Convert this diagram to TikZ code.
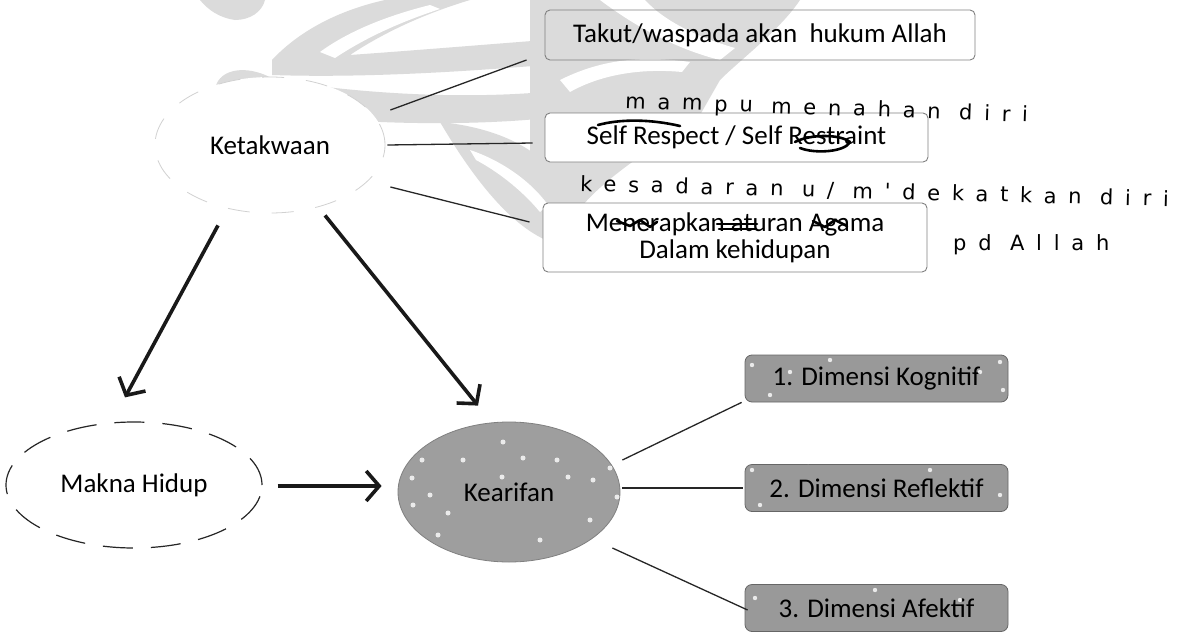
\documentclass[tikz,border=0pt]{standalone}
\usepackage{fontspec}
\setmainfont{Carlito}
\newfontfamily\hand[LetterSpace=56]{DejaVu Sans}
\usetikzlibrary{arrows.meta,shapes.geometric,calc}
\begin{document}
\begin{tikzpicture}[x=1pt,y=-1pt,
  txt/.style={font=\fontsize{27}{31}\selectfont},
  wm/.style={fill=black!14},
  wbox/.style={draw=black!50, line width=0.9pt, rounded corners=5pt, inner sep=0pt, align=center, txt},
  gbox/.style={draw=black!60, line width=0.8pt, rounded corners=7pt, fill=black!40, minimum width=263pt, minimum height=47pt, inner sep=0pt, txt},
  conn/.style={line width=1.3pt, draw=black!85},
  bigarrow/.style={line width=3.6pt, draw=black!90, -{Straight Barb[length=13pt,width=30pt]}},
  hw/.style={font=\hand\fontsize{21}{24}\selectfont, anchor=base west, inner sep=0pt},
  scrib/.style={line width=2.6pt, draw=black, line cap=round, line join=round},
  speck/.style={fill=white, opacity=0.8},
]
\useasboundingbox (0,0) rectangle (1181,632);
\fill[white] (0,0) rectangle (1181,632);

% watermark (light grey logo)
\fill[wm] (200,0) -- (265,0) .. controls (262,12) and (250,20) .. (235,20) .. controls (220,18) and (208,10) .. (200,0) -- cycle;
\fill[wm] (272,60) .. controls (300,30) and (340,10) .. (385,0) -- (470,0) .. controls (420,15) and (380,35) .. (350,55) .. controls (420,50) and (480,45) .. (545,40) -- (545,65) .. controls (460,72) and (360,78) .. (272,75) -- cycle;
\fill[white] (320,52) .. controls (350,30) and (390,15) .. (430,5) -- (440,9) .. controls (400,22) and (365,38) .. (335,58) -- cycle;
\fill[wm] (215,92) .. controls (215,70) and (245,62) .. (275,80) .. controls (350,92) and (450,100) .. (545,92) -- (548,118) .. controls (450,128) and (330,122) .. (270,112) .. controls (230,118) and (215,105) .. (215,92) -- cycle;
\fill[white] (252,93) circle (9);
\fill[wm] (530,0) -- (800,0) .. controls (780,30) and (740,60) .. (720,80) -- (700,115) .. controls (650,150) and (600,180) .. (575,215) -- (530,215) -- cycle;
\fill[white] (600,0) .. controls (640,30) and (680,50) .. (720,60) -- (735,48) .. controls (700,38) and (665,22) .. (645,0) -- cycle;
\fill[white] (560,80) .. controls (600,60) and (640,55) .. (690,62) -- (682,72) .. controls (640,68) and (600,75) .. (570,92) -- cycle;
\fill[wm] (440,122) .. controls (500,128) and (540,150) .. (560,180) -- (560,245) .. controls (520,235) and (480,190) .. (440,122) -- cycle;
\fill[white] (470,150) .. controls (500,160) and (530,180) .. (548,205) -- (540,212) .. controls (520,188) and (495,170) .. (476,160) -- cycle;

% Ketakwaan and its three boxes
\node[ellipse, fill=white, draw=black!18, dash pattern=on 22pt off 22pt, line width=0.8pt,
      minimum width=230pt, minimum height=136pt, inner sep=0pt, txt] (K) at (270,145) {Ketakwaan};
\node[wbox, fill=none, minimum width=430pt, minimum height=50pt] (B1) at (760,35) {Takut/waspada akan\ \ hukum Allah};
\node[wbox, fill=white, minimum width=383pt, minimum height=49pt] (B2) at (736.5,137.5) {Self Respect / Self Restraint};
\node[wbox, fill=white, minimum width=384pt, minimum height=69pt, font=\fontsize{27}{27}\selectfont] (B3) at (735,237.5) {Menerapkan aturan Agama\\Dalam kehidupan};

% pen scribbles over some words
\draw[scrib] (598,125) .. controls (620,119) and (650,119) .. (680,126);
\draw[scrib] (795,142) .. controls (810,134) and (840,134) .. (850,142) .. controls (845,152) and (815,154) .. (800,148);
\draw[scrib] (617,221) -- (630,226) -- (640,220) -- (650,227) -- (657,222);
\draw[scrib] (717,224) -- (757,224) (719,229) -- (755,229);
\draw[scrib] (813,221) -- (825,227) -- (835,220) -- (847,226);

\draw[conn] ([shift={(5,-35)}]K.east) -- ([shift={(-18,25)}]B1.west);
\draw[conn] ([shift={(2,0)}]K.east) -- ([shift={(-12,5.5)}]B2.west);
\draw[conn] ([shift={(5,42)}]K.east) -- ([shift={(-13,-15.5)}]B3.west);

% handwritten notes
\node[hw, rotate=-2] (h1) at (625,108) {mampu menahan diri};
\node[hw, rotate=-1.5] (h2) at (580,191) {kesadaran u/ m'dekatkan diri};
\node[hw] (h3) at (953,250) {pd Allah};

% lower part
\node[ellipse, draw=black!85, dash pattern=on 30pt off 18pt, line width=1.2pt,
      minimum width=256pt, minimum height=126pt, inner sep=0pt, txt] (M) at (134,485) {Makna Hidup};
\node[ellipse, fill=black!38, draw=black!50, line width=0.8pt,
      minimum width=222pt, minimum height=140pt, inner sep=0pt, txt] (F) at (509,492) {Kearifan};
\foreach \p in {(503,442),(523,458),(557,460),(568,477),(593,480),(610,468),(617,497),(422,460),(412,478),(430,495),(413,505),(448,513),(438,535),(502,477),(463,460),(590,520),(540,540)}
  \fill[speck] \p circle (2.5);

\node[gbox] (D1) at (876.5,378.5) {1. Dimensi Kognitif};
\node[gbox] (D2) at (876.5,488) {2. Dimensi Reflektif};
\node[gbox] (D3) at (876.5,608) {3. Dimensi Afektif};
\foreach \p in {(752,365),(770,395),(790,372),(830,360),(1000,362),(1003,390),(980,372),(752,470),(760,505),(808,462),(930,470),(1000,495),(755,598),(875,590),(960,600)}
  \fill[speck] \p circle (2.2);

\draw[bigarrow] ([shift={(-52,12)}]K.south) -- ([shift={(-9,-24)}]M.north);
\draw[bigarrow] ([shift={(55,2)}]K.south) -- ([shift={(-31,-16)}]F.north);
\draw[bigarrow] ([shift={(15,1)}]M.east) -- ([shift={(-16,-6)}]F.west);

\draw[conn] ([shift={(2,-32)}]F.east) -- ([shift={(-3,0)}]D1.south west);
\draw[conn] ([shift={(2,-4)}]F.east) -- ([shift={(-2,0)}]D2.west);
\draw[conn] ([shift={(-8,56)}]F.east) -- ([shift={(3,2)}]D3.west);
\end{tikzpicture}
\end{document}
